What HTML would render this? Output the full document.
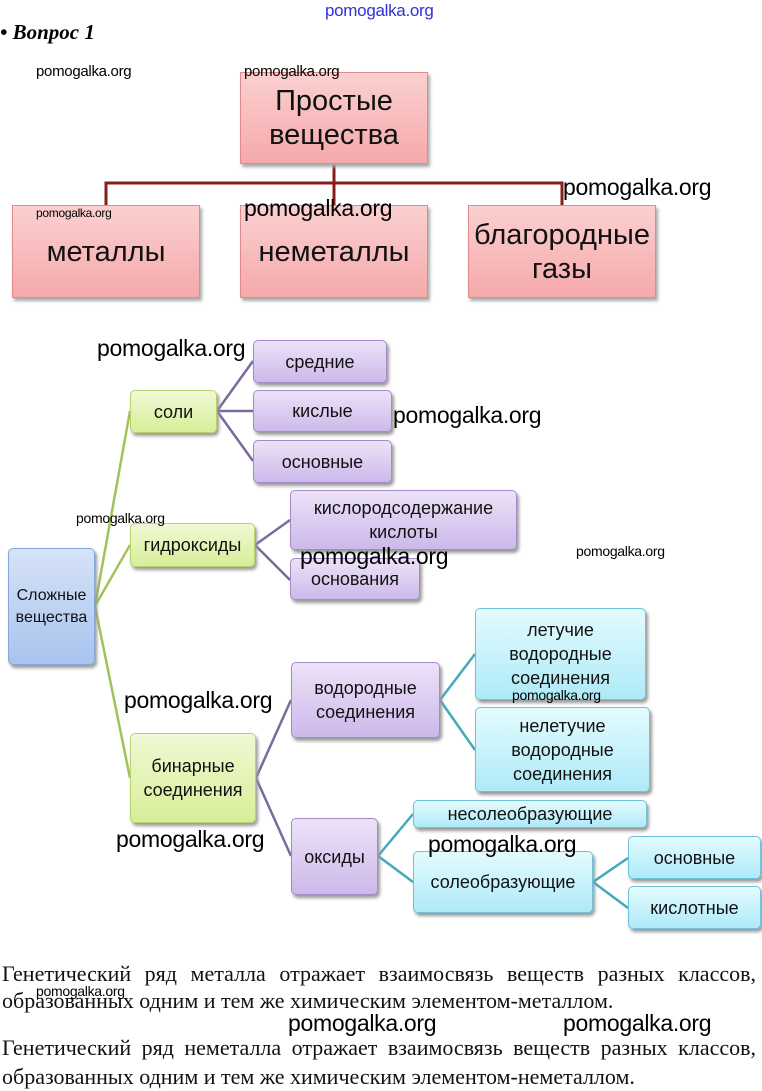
<!DOCTYPE html>
<html><head><meta charset="utf-8"><style>
body{margin:0;width:762px;height:1091px;background:#fff;position:relative;overflow:hidden;font-family:"Liberation Sans","DejaVu Sans",sans-serif;}
.a{position:absolute;box-sizing:border-box;display:flex;align-items:center;justify-content:center;text-align:center;color:#111;}
.pk{background:linear-gradient(#fbd0d0,#f6a9ab);border:1px solid #e08a8c;box-shadow:2px 3px 3px #aaa;font-size:29px;line-height:34px;}
.bx{border-radius:5px;box-shadow:2px 3px 3px #999;font-size:18px;line-height:24px;}
.g{background:linear-gradient(#f0f9d4,#d8ee99);border:1px solid #b7d36b;}
.p{background:linear-gradient(#ece2f8,#cdb9ea);border:1px solid #a38bc6;}
.c{background:linear-gradient(#e4fbfe,#aeeaf8);border:1px solid #6cc3da;}
.b{background:linear-gradient(#d6e3f7,#a8c3ee);border:1px solid #87a6d6;}
.w{position:absolute;color:#000;white-space:nowrap;letter-spacing:-0.3px;}
.w1{font-size:23px;}.w2{font-size:14px;}
.t{position:absolute;left:2px;width:754px;font-family:"Liberation Serif",serif;font-size:22px;line-height:27px;color:#111;white-space:nowrap;}
.j{text-align:justify;text-align-last:justify;}
</style></head><body>
<div class="w" style="left:325px;top:1px;font-size:17px;color:#3030d8;">pomogalka.org</div>
<div style="position:absolute;left:0;top:20px;font-family:'Liberation Serif',serif;font-weight:bold;font-style:italic;font-size:21px;">• Вопрос 1</div>

<svg style="position:absolute;left:0;top:0" width="762" height="1091">
<g stroke="#8b1c1c" stroke-width="3" fill="none">
<path d="M334 164V205M106 205V183H562V205"/>
</g>
<g stroke="#a2c35a" stroke-width="2.5" fill="none">
<path d="M95 606L130 411M95 606L130 545M95 606L130 778"/>
</g>
<g stroke="#7a6a9e" stroke-width="2.5" fill="none">
<path d="M217 411L253 361M217 411L253 411M217 411L253 461M255 545L290 520M255 545L290 580M256 778L291 700M256 778L291 856"/>
</g>
<g stroke="#46a8bc" stroke-width="2.5" fill="none">
<path d="M440 700L475 654M440 700L475 750M378 856L413 814M378 856L413 882M593 882L628 858M593 882L628 908"/>
</g>
</svg>

<div class="a pk" style="left:240px;top:72px;width:188px;height:92px;">Простые<br>вещества</div>
<div class="a pk" style="left:12px;top:205px;width:188px;height:93px;">металлы</div>
<div class="a pk" style="left:240px;top:205px;width:188px;height:93px;">неметаллы</div>
<div class="a pk" style="left:468px;top:205px;width:188px;height:93px;">благородные<br>газы</div>

<div class="a bx b" style="left:8px;top:548px;width:87px;height:117px;font-size:16px;line-height:22px;">Сложные<br>вещества</div>
<div class="a bx g" style="left:130px;top:390px;width:87px;height:43px;">соли</div>
<div class="a bx g" style="left:130px;top:523px;width:125px;height:44px;">гидроксиды</div>
<div class="a bx g" style="left:130px;top:733px;width:126px;height:90px;">бинарные<br>соединения</div>
<div class="a bx p" style="left:253px;top:340px;width:134px;height:43px;">средние</div>
<div class="a bx p" style="left:253px;top:390px;width:139px;height:42px;">кислые</div>
<div class="a bx p" style="left:253px;top:440px;width:139px;height:43px;">основные</div>
<div class="a bx p" style="left:290px;top:490px;width:227px;height:60px;">кислородсодержание<br>кислоты</div>
<div class="a bx p" style="left:290px;top:558px;width:130px;height:42px;">основания</div>
<div class="a bx p" style="left:291px;top:662px;width:149px;height:76px;">водородные<br>соединения</div>
<div class="a bx p" style="left:291px;top:818px;width:87px;height:77px;">оксиды</div>
<div class="a bx c" style="left:475px;top:608px;width:171px;height:92px;">летучие<br>водородные<br>соединения</div>
<div class="a bx c" style="left:475px;top:707px;width:175px;height:85px;">нелетучие<br>водородные<br>соединения</div>
<div class="a bx c" style="left:413px;top:800px;width:234px;height:28px;">несолеобразующие</div>
<div class="a bx c" style="left:413px;top:851px;width:180px;height:62px;">солеобразующие</div>
<div class="a bx c" style="left:628px;top:836px;width:133px;height:43px;">основные</div>
<div class="a bx c" style="left:628px;top:886px;width:133px;height:43px;">кислотные</div>

<div class="t j" style="top:960px;">Генетический ряд металла отражает взаимосвязь веществ разных классов,</div>
<div class="t" style="top:987px;">образованных одним и тем же химическим элементом-металлом.</div>
<div class="t j" style="top:1034px;">Генетический ряд неметалла отражает взаимосвязь веществ разных классов,</div>
<div class="t" style="top:1063px;">образованных одним и тем же химическим элементом-неметаллом.</div>

<div class="w" style="left:36px;top:63px;font-size:15px;">pomogalka.org</div>
<div class="w" style="left:244px;top:63px;font-size:15px;">pomogalka.org</div>
<div class="w w1" style="left:563px;top:174px;">pomogalka.org</div>
<div class="w w1" style="left:244px;top:195px;">pomogalka.org</div>
<div class="w" style="left:36px;top:206px;font-size:12px;">pomogalka.org</div>
<div class="w w1" style="left:97px;top:335px;">pomogalka.org</div>
<div class="w w1" style="left:393px;top:402px;">pomogalka.org</div>
<div class="w w2" style="left:76px;top:510px;">pomogalka.org</div>
<div class="w w1" style="left:300px;top:543px;">pomogalka.org</div>
<div class="w w2" style="left:576px;top:543px;">pomogalka.org</div>
<div class="w w1" style="left:124px;top:687px;">pomogalka.org</div>
<div class="w w2" style="left:512px;top:687px;">pomogalka.org</div>
<div class="w w1" style="left:116px;top:826px;">pomogalka.org</div>
<div class="w w1" style="left:428px;top:831px;">pomogalka.org</div>
<div class="w w2" style="left:36px;top:983px;">pomogalka.org</div>
<div class="w w1" style="left:288px;top:1010px;">pomogalka.org</div>
<div class="w w1" style="left:563px;top:1010px;">pomogalka.org</div>
</body></html>
